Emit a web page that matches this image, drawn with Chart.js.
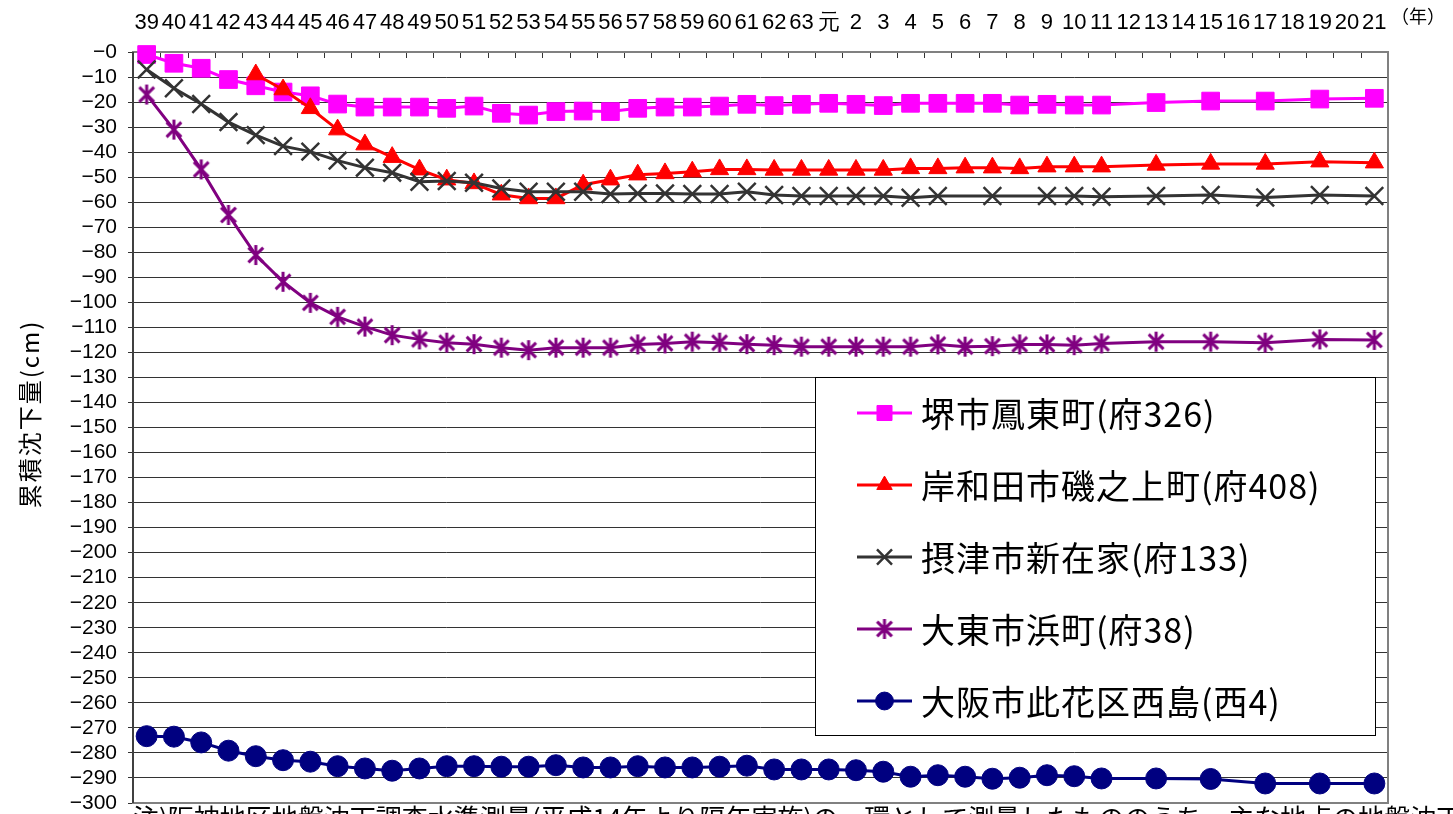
<!DOCTYPE html>
<html lang="ja">
<head>
<meta charset="utf-8">
<title>累積沈下量</title>
<script src="https://cdn.jsdelivr.net/npm/chart.js@4/dist/chart.umd.min.js"></script>
<style>
  html, body { margin: 0; padding: 0; background: #fff; }
  #wrap { position: relative; width: 1453px; height: 814px; overflow: hidden; }
</style>
</head>
<body>
<div id="wrap"><canvas id="chart" width="1453" height="814"></canvas></div>
<script>
// 年 (昭和39〜63, 平成元〜21)
var years = ['39','40','41','42','43','44','45','46','47','48','49','50','51','52','53','54','55','56','57','58','59','60','61','62','63',
             '元','2','3','4','5','6','7','8','9','10','11','12','13','14','15','16','17','18','19','20','21'];

// 累積沈下量 (cm), null = 未測量
var sakai = [-1, -4.5, -6.5, -11, -13.5, -16, -17.5, -20.8, -22, -22, -22, -22.5, -21.6, -24.5, -25.2, -23.8, -23.6, -23.8, -22.5, -22, -22, -21.6, -20.9, -21.4, -20.9,
             -20.5, -20.9, -21.4, -20.5, -20.5, -20.5, -20.5, -21.2, -20.9, -21.2, -21.2, null, -20.2, null, -19.6, null, -19.6, null, -18.8, null, -18.5];
var kishiwada = [null, null, null, null, -9, -15, -22.5, -31, -37, -42, -47, -51, -52.5, -57, -58.5, -58.5, -53, -51, -49, -48.5, -47.8, -46.9, -46.9, -47.1, -47.1,
             -47.1, -47.1, -47.1, -46.5, -46.5, -46.2, -46.2, -46.5, -45.8, -45.8, -45.8, null, -45.1, null, -44.7, null, -44.7, null, -43.8, null, -44.2];
var settsu = [-7, -14.5, -20.8, -28, -33.2, -37.6, -39.8, -43.4, -46.2, -48.2, -51.8, -51.5, -52.2, -54.5, -55.8, -55.8, -55.8, -56.7, -56.5, -56.5, -56.7, -56.7, -55.8, -57.1, -57.5,
             -57.5, -57.5, -57.5, -58.2, -57.5, null, -57.5, null, -57.5, -57.5, -57.8, null, -57.5, null, -57.1, null, -58.1, null, -57.1, null, -57.5];
var daito = [-17, -31, -46.9, -65.1, -81.1, -91.8, -100.2, -105.8, -109.7, -113.1, -114.8, -116.1, -116.7, -118.1, -119.1, -118.1, -118.1, -118.1, -116.8, -116.4, -115.7, -116.1, -116.7, -117.1, -117.7,
             -117.7, -117.7, -117.7, -117.7, -116.8, -117.7, -117.5, -116.8, -116.8, -117.1, -116.4, null, -115.7, null, -115.7, null, -116.1, null, -114.8, null, -115];
var nishijima = [-273.3, -273.5, -275.8, -279.1, -281.3, -282.9, -283.5, -285.3, -286.2, -287.1, -286.2, -285.3, -285.3, -285.5, -285.5, -284.9, -285.8, -285.8, -285.3, -285.8, -285.8, -285.5, -285.1, -286.6, -286.6,
             -286.6, -286.9, -287.5, -289.5, -288.9, -289.5, -290.3, -289.9, -288.9, -289.3, -290.2, null, -290.2, null, -290.4, null, -292.2, null, -292.2, null, -292.2];

var seriesNames = ['堺市鳳東町(府326)', '岸和田市磯之上町(府408)', '摂津市新在家(府133)', '大東市浜町(府38)', '大阪市此花区西島(西4)'];

var JP = '"Noto Sans CJK JP", "Noto Sans", sans-serif';
var NUM = '"Liberation Sans", Arial, sans-serif';

// Excel 風のアスタリスク (縦線 + ×)
function makeAsterisk(color, size, lw) {
    var c = document.createElement('canvas');
    c.width = c.height = size;
    var g = c.getContext('2d');
    var m = size / 2, r = size / 2 - 1, d = r * 0.74;
    g.strokeStyle = color;
    g.lineWidth = lw;
    g.beginPath();
    g.moveTo(m, m - r); g.lineTo(m, m + r);
    g.moveTo(m - d, m - d); g.lineTo(m + d, m + d);
    g.moveTo(m + d, m - d); g.lineTo(m - d, m + d);
    g.stroke();
    return c;
}

function series(label, data, color, style, radius, bw, order) {
    return {
        label: label,
        data: data,
        borderColor: color,
        backgroundColor: color,
        borderWidth: 3,
        pointStyle: style,
        pointRadius: radius,
        pointBorderWidth: bw,
        pointBorderColor: color,
        pointBackgroundColor: color,
        spanGaps: true,
        tension: 0,
        clip: false,
        order: order
    };
}

var frame = {
    id: 'frame',
    beforeDatasetsDraw: function(chart) {
        var ctx = chart.ctx, a = chart.chartArea, x = chart.scales.x;
        ctx.save();
        // 上側の目盛り (内向き)
        ctx.strokeStyle = '#333';
        ctx.lineWidth = 1;
        ctx.beginPath();
        for (var i = 1; i < years.length; i++) {
            var px = Math.round((x.getPixelForValue(i - 1) + x.getPixelForValue(i)) / 2) + 0.5;
            ctx.moveTo(px, a.top);
            ctx.lineTo(px, a.top + 6);
        }
        ctx.stroke();
        // 枠
        ctx.strokeStyle = '#808080';
        ctx.lineWidth = 2;
        ctx.strokeRect(a.left, a.top, a.right - a.left, a.bottom - a.top);
        ctx.strokeStyle = '#404040';
        ctx.beginPath();
        ctx.moveTo(a.left, a.top);
        ctx.lineTo(a.left, a.bottom);
        ctx.stroke();
        ctx.restore();
    },
    afterDraw: function(chart) {
        var ctx = chart.ctx;
        ctx.save();
        ctx.fillStyle = '#000';

        // 縦軸タイトル
        ctx.translate(30, 414);
        ctx.rotate(-Math.PI / 2);
        ctx.font = '24px ' + JP;
        ctx.letterSpacing = '2px';
        ctx.textAlign = 'center';
        ctx.textBaseline = 'middle';
        ctx.fillText('累積沈下量(cm)', 0, 0);
        ctx.setTransform(1, 0, 0, 1, 0, 0);
        ctx.letterSpacing = '0px';

        // (年)
        ctx.font = '18px ' + JP;
        ctx.textAlign = 'left';
        ctx.fillText('（年）', 1391, 16);

        // 注記 (下端で切れている)
        ctx.font = '26px ' + JP;
        ctx.textBaseline = 'top';
        ctx.fillText('注)阪神地区地盤沈下調査水準測量(平成14年より隔年実施)の一環として測量したもののうち、主な地点の地盤沈下の経年変化', 133, 805);

        // 凡例
        var bx = 815, by = 377, bw = 560, bh = 358;
        ctx.fillStyle = '#fff';
        ctx.fillRect(bx, by, bw, bh);
        ctx.strokeStyle = '#000';
        ctx.lineWidth = 1;
        ctx.strokeRect(bx + 0.5, by + 0.5, bw, bh);
        ctx.font = '34px ' + JP;
        ctx.letterSpacing = '1px';
        ctx.textBaseline = 'middle';
        chart.data.datasets.forEach(function(ds, i) {
            var y = 413 + i * 72;
            ctx.strokeStyle = ds.borderColor;
            ctx.lineWidth = 3;
            ctx.beginPath();
            ctx.moveTo(857, y);
            ctx.lineTo(912, y);
            ctx.stroke();
            ctx.fillStyle = ds.pointBackgroundColor;
            ctx.strokeStyle = ds.pointBorderColor;
            ctx.lineWidth = ds.pointBorderWidth;
            Chart.helpers.drawPoint(ctx, {
                pointStyle: ds.pointStyle,
                radius: ds.pointRadius * 0.85,
                rotation: 0,
                borderWidth: ds.pointBorderWidth
            }, 884.5, y);
            ctx.fillStyle = '#000';
            ctx.fillText(ds.label, 921, y + 1);
        });
        ctx.restore();
    }
};

var chart = new Chart(document.getElementById('chart'), {
    type: 'line',
    data: {
        labels: years,
        datasets: [
            series(seriesNames[0], sakai, '#FF00FF', 'rect', 12.5, 1, 5),
            series(seriesNames[1], kishiwada, '#FF0000', 'triangle', 10.5, 1, 4),
            series(seriesNames[2], settsu, '#333333', 'crossRot', 12.5, 2.5, 3),
            series(seriesNames[3], daito, '#800080', makeAsterisk('#800080', 22, 3), 11, 0, 2),
            series(seriesNames[4], nishijima, '#000080', 'circle', 10.5, 1, 1)
        ]
    },
    options: {
        responsive: false,
        devicePixelRatio: 1,
        animation: false,
        events: [],
        layout: { autoPadding: false, padding: { left: 0, top: 0, right: 65, bottom: 11 } },
        plugins: {
            legend: { display: false },
            tooltip: { enabled: false }
        },
        scales: {
            x: {
                type: 'category',
                position: 'top',
                offset: true,
                grid: { display: false, drawTicks: false },
                border: { display: false },
                ticks: {
                    autoSkip: false,
                    maxRotation: 0,
                    padding: 16,
                    color: '#000',
                    font: { family: NUM, size: 22 }
                },
                afterFit: function(s) {
                    s.height = 52;
                    s.paddingLeft = s.paddingRight = 0;
                }
            },
            y: {
                min: -300,
                max: 0,
                grid: { color: '#333', lineWidth: 1, tickLength: 5 },
                border: { display: false },
                ticks: {
                    stepSize: 10,
                    autoSkip: false,
                    maxTicksLimit: 40,
                    padding: 11,
                    color: '#000',
                    font: { family: NUM, size: 21, lineHeight: 1 },
                    callback: function(v) { return '\u2212' + Math.abs(v); }
                },
                afterFit: function(s) {
                    s.width = 133;
                    s.paddingTop = s.paddingBottom = 0;
                }
            }
        }
    },
    plugins: [frame]
});
</script>
</body>
</html>
